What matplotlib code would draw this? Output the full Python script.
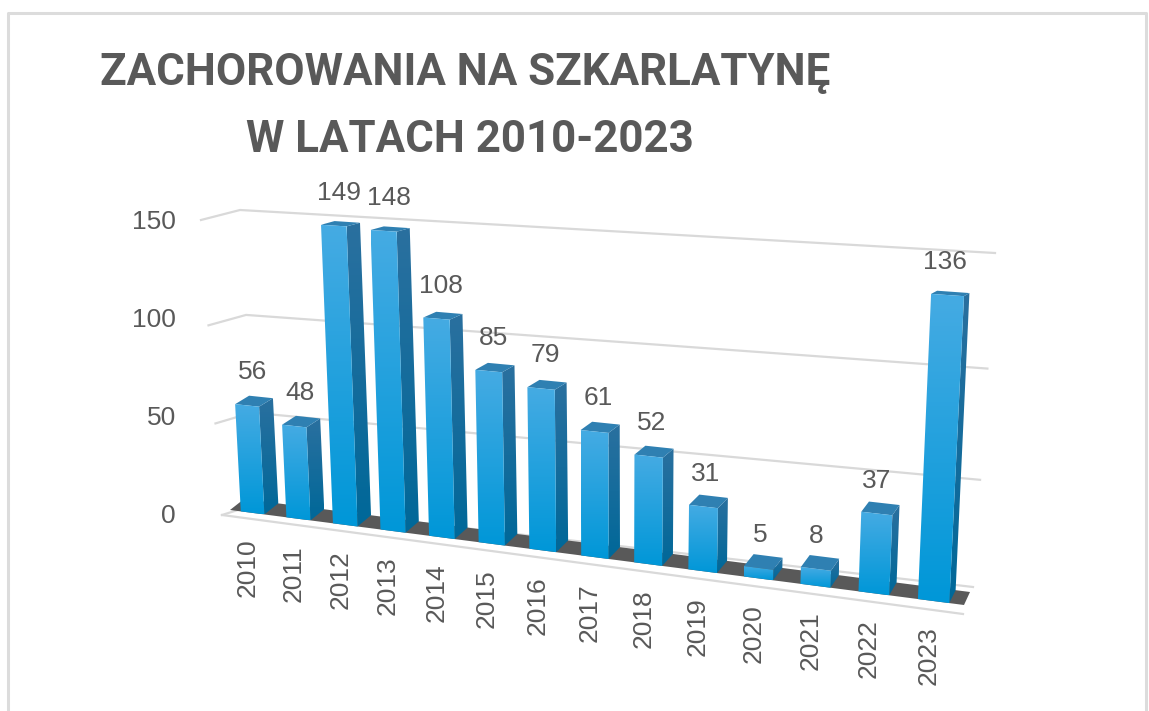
import numpy as np
import matplotlib
matplotlib.use('Agg')
import matplotlib.pyplot as plt
from matplotlib.patches import Polygon

years = ['2010', '2011', '2012', '2013', '2014', '2015', '2016',
         '2017', '2018', '2019', '2020', '2021', '2022', '2023']
cases = [56, 48, 149, 148, 108, 85, 79, 61, 52, 31, 5, 8, 37, 136]
axis_ticks = [0, 50, 100, 150]
title_lines = ['ZACHOROWANIA NA SZKARLATYNĘ', 'W LATACH 2010-2023']

W, H = 1149, 711
N = len(years)
VMAX = 150
BAR_W = 0.52
TEXT = '#595959'
GRID = '#d9d9d9'

# perspective planes: pixel corners for (s=0,v=0), (s=N,v=0), (s=N,v=VMAX), (s=0,v=VMAX)
front_plane = [(230, 510), (964, 605), (981, 264), (214, 216)]
back_plane = [(244, 499), (970, 592), (986, 262), (228, 212)]
wall_plane = [(257, 504), (973, 587), (995, 253), (240, 210)]
wing_plane = [(222, 515), (257, 504), (240, 210), (201, 220)]


def homography(corners):
    src = [(0, 0), (1, 0), (1, 1), (0, 1)]
    A, b = [], []
    for (u, v), (x, y) in zip(src, corners):
        A.append([u, v, 1, 0, 0, 0, -u * x, -v * x])
        A.append([0, 0, 0, u, v, 1, -u * y, -v * y])
        b += [x, y]
    return np.append(np.linalg.solve(np.array(A, float), np.array(b, float)), 1).reshape(3, 3)


def project(m, s, v):
    p = m @ np.array([s / N, v / VMAX, 1.0])
    return p[0] / p[2], p[1] / p[2]


FRONT = homography(front_plane)
BACK = homography(back_plane)
WALL = homography(wall_plane)
WING = homography(wing_plane)

fig = plt.figure(figsize=(W / 100, H / 100), dpi=100, facecolor='white')
ax = fig.add_axes([0, 0, 1, 1])
ax.set_xlim(0, W)
ax.set_ylim(H, 0)
ax.axis('off')


def gradient_face(pts, top_color, bottom_color, z):
    pts = np.array(pts)
    c0 = np.array(matplotlib.colors.to_rgb(top_color))
    c1 = np.array(matplotlib.colors.to_rgb(bottom_color))
    t = np.linspace(0, 1, 64)[:, None, None]
    img = c0[None, None, :] * (1 - t) + c1[None, None, :] * t
    im = ax.imshow(img, extent=[pts[:, 0].min(), pts[:, 0].max(), pts[:, 1].max(), pts[:, 1].min()],
                   aspect='auto', zorder=z, interpolation='bilinear')
    poly = Polygon(pts, closed=True, transform=ax.transData, fc='none', ec='none')
    ax.add_patch(poly)
    im.set_clip_path(poly)


# frame around the picture
ax.plot([7.5, 7.5, W - 3, W - 3], [H, 12.5, 12.5, H], color='#dcdcdc', lw=2.2, zorder=1)

# gridlines on the wall and the left wing
for t in axis_ticks:
    a = project(WING, 0, t)
    b = project(WING, N, t)
    c = project(WALL, N, t)
    ax.plot([a[0], b[0], c[0]], [a[1], b[1], c[1]], color=GRID, lw=1.6, zorder=2)
    ax.text(176, 516 - t * 1.96, str(t), ha='right', va='center', fontsize=19,
            family='Liberation Sans', color=TEXT, zorder=6)

# floor: dark band and the light front edge
floor = [project(FRONT, 0, 0), project(FRONT, N, 0), project(BACK, N, 0), project(BACK, 0, 0)]
ax.add_patch(Polygon(floor, closed=True, fc='#595959', ec='none', zorder=3))
ax.plot([222, 963], [515, 614], color=GRID, lw=1.6, zorder=2)

for i, (year, val) in enumerate(zip(years, cases)):
    s0 = i + (1 - BAR_W) / 2
    s1 = s0 + BAR_W
    z = 4 + i * 0.01
    # side, top, front
    side = [project(FRONT, s1, 0), project(BACK, s1, 0), project(BACK, s1, val), project(FRONT, s1, val)]
    gradient_face(side, '#2a709f', '#006899', z)
    top = [project(FRONT, s0, val), project(FRONT, s1, val), project(BACK, s1, val), project(BACK, s0, val)]
    ax.add_patch(Polygon(top, closed=True, fc='#2f80b2', ec='none', zorder=z))
    front = [project(FRONT, s0, 0), project(FRONT, s1, 0), project(FRONT, s1, val), project(FRONT, s0, val)]
    gradient_face(front, '#45abe3', '#0097d8', z + 0.001)

    lx = project(BACK, i + 0.5, val)[0]
    ly = project(FRONT, i + 0.5, val)[1]
    ax.text(lx - 8, ly - 33, str(val), ha='center', va='center', fontsize=19,
            family='Liberation Sans', color=TEXT, zorder=6)
    yx, yy = project(FRONT, i + 0.5, 0)
    ax.text(yx - 5, yy + 55, year, ha='center', va='center', rotation=90, fontsize=19,
            family='Liberation Sans', color=TEXT, zorder=6)

ax.set_xlim(0, W)
ax.set_ylim(H, 0)

ax.text(465.5, 73, title_lines[0], ha='center', va='center', fontsize=31.6,
        family='Roboto', weight='bold', color=TEXT)
ax.text(469.5, 140, title_lines[1], ha='center', va='center', fontsize=31.6,
        family='Roboto', weight='bold', color=TEXT)

fig.savefig('out.png', dpi=100)
